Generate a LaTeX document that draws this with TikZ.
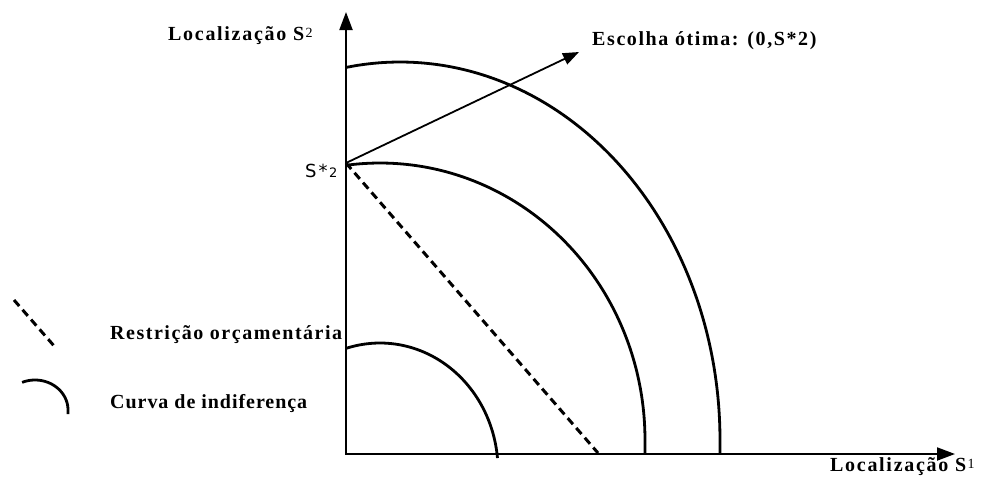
\documentclass[tikz,border=0pt]{standalone}
\usepackage{fontspec}
\setmainfont{Liberation Serif}
\newfontfamily\lab{Liberation Serif}
\newfontfamily\sansf{DejaVu Sans}
\usetikzlibrary{arrows.meta}
\begin{document}
\begin{tikzpicture}[x=1pt,y=-1pt,
  lbl/.style={font=\lab\bfseries\fontsize{20}{22}\selectfont, inner sep=0pt, anchor=base west},
  sml/.style={font=\sansf\fontsize{18}{20}\selectfont, inner sep=0pt, anchor=base west},
  curve/.style={line width=2.8pt},
  budget/.style={line width=3pt, dash pattern=on 8pt off 5pt},
  axis/.style={line width=2pt, -{Triangle[length=18pt,width=13pt]}},
  pointer/.style={line width=1.8pt, -{Triangle[length=16pt,width=12pt]}}]
\useasboundingbox (0,0) rectangle (987,485);
\newcommand{\smallnum}[1]{\kern1.5pt\raisebox{3pt}{\mdseries\fontsize{14}{14}\selectfont #1}}
\newcommand{\spaced}[2]{\addfontfeature{LetterSpace=#1}#2}
% axes
\coordinate (O) at (346,454);
\coordinate (ytip) at (346,12);
\coordinate (xtip) at (955,454);
\draw[axis] (O) -- (ytip);
\draw[axis] (345,454) -- (xtip);
% optimum point and pointer
\coordinate (S) at (346,163);
\coordinate (esctip) at (579,52);
\draw[pointer] (S) -- (esctip);
% budget constraint
\coordinate (B) at (598,453);
\draw[budget] (S) -- (B);
% indifference curves
\draw[curve] plot[domain=106.7:5.4,samples=60,smooth] ({380+118*cos(\x)},{470-127*sin(\x)});
\draw[curve] plot[domain=97.4:0,samples=60,smooth] ({380+265*cos(\x)},{440-277*sin(\x)}) -- (645,454);
\draw[curve] plot[domain=99.7:0,samples=60,smooth] ({400+320*cos(\x)},{440-378*sin(\x)}) -- (720,454);
% labels
\node[lbl] (ylab) at (168,40) {\spaced{8.5}{Localização S\smallnum{2}}};
\node[lbl] (xlab) at (830,471) {\spaced{8.5}{Localização S\smallnum{1}}};
\node[lbl] (esc) at (592,45) {\spaced{8}{Escolha ótima: (0,S*2)}};
\node[sml] (s2) at (305,177) {S\kern2pt*\kern1.5pt{\fontsize{13}{13}\selectfont 2}};
% legend
\coordinate (l1a) at (14,300);
\coordinate (l1b) at (55,347);
\draw[budget] (l1a) -- (l1b);
\node[lbl] (rest) at (110,339) {\spaced{7.6}{Restrição orçamentária}};
\draw[curve] plot[domain=113:0,samples=40,smooth] ({35+33*cos(\x)},{410-30*sin(\x)}) -- (68,414);
\node[lbl] (curva) at (110,408) {\spaced{4.8}{Curva de indiferença}};
\end{tikzpicture}
\end{document}
